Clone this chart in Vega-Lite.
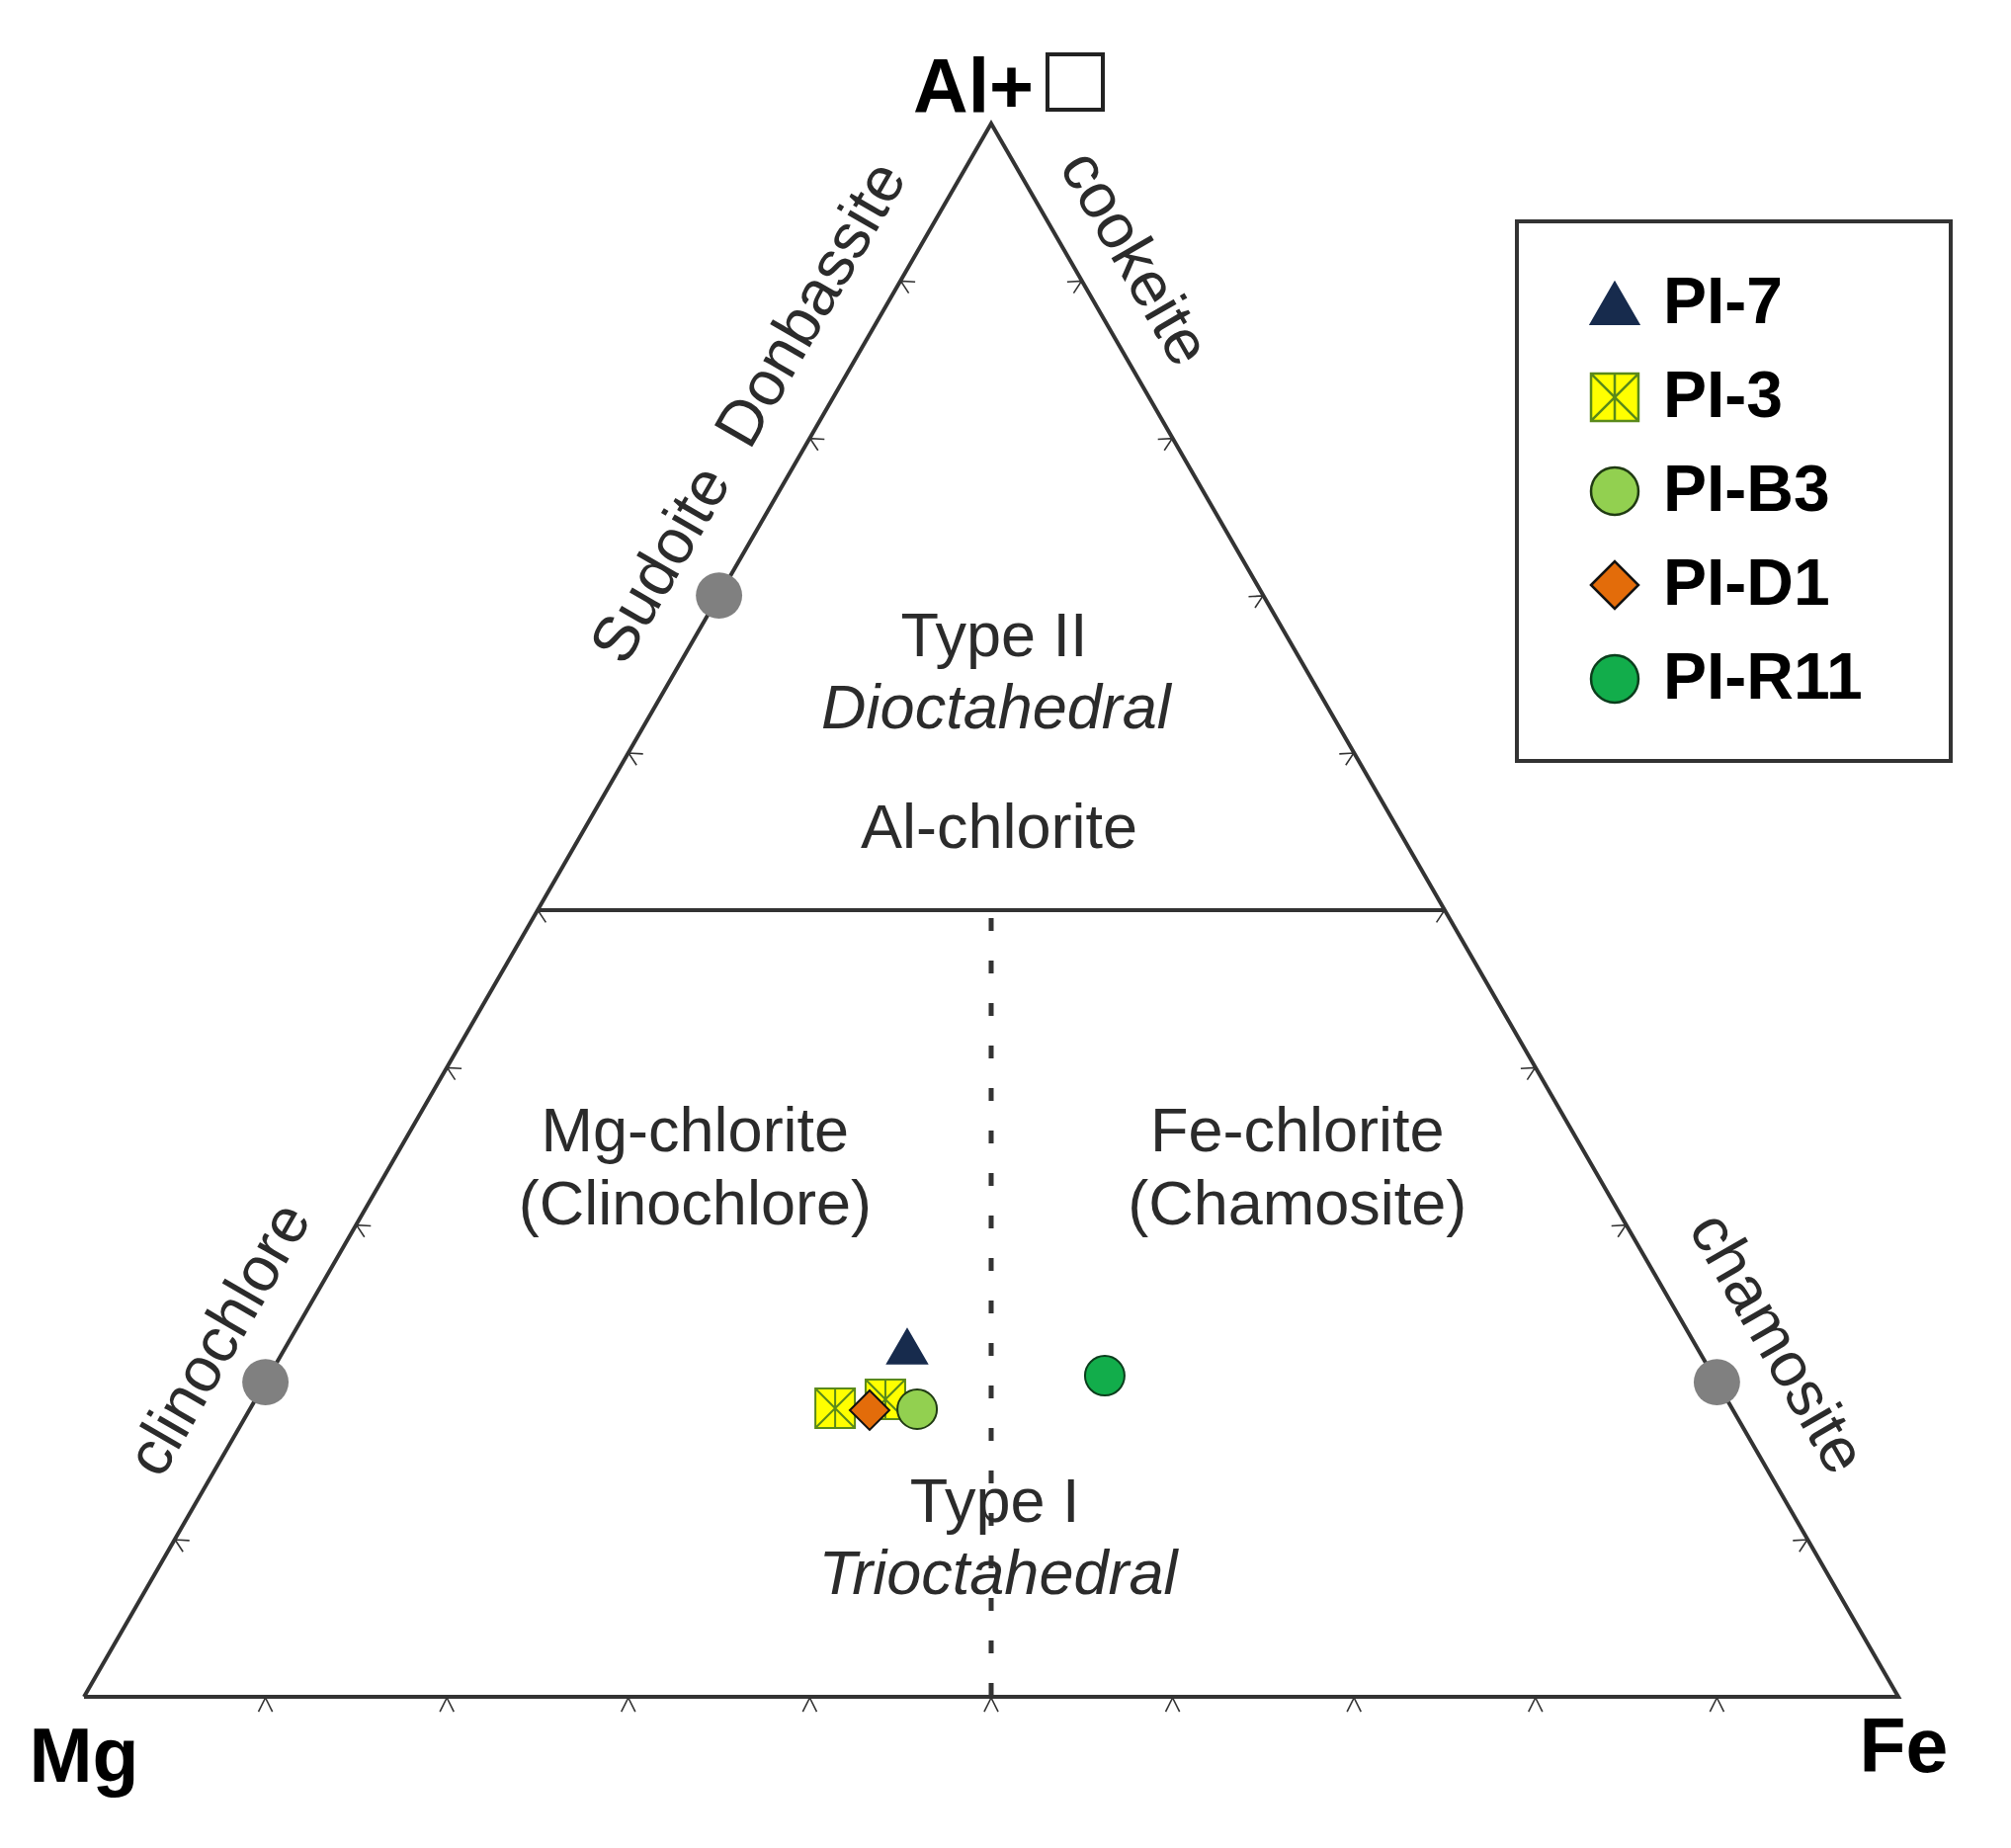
{
  "$schema": "https://vega.github.io/schema/vega-lite/v6.json",
  "width": 2035,
  "height": 1870,
  "autosize": {"type": "none"},
  "padding": 0,
  "background": "white",
  "config": {"view": {"stroke": null}, "font": "Liberation Sans", "legend": {"strokeWidth": 4}},
  "datasets": {
    "triangle": [
      {"x": 0, "y": 0, "o": 0},
      {"x": 1, "y": 0, "o": 1},
      {"x": 0.5, "y": 1, "o": 2},
      {"x": 0, "y": 0, "o": 3}
    ],
    "hline": [{"x": 0.25, "y": 0.5, "x2": 0.75, "y2": 0.5}],
    "divider": [{"x": 0.5, "y": 0.5, "x2": 0.5, "y2": 0}],
    "ticksBottom": [
      {"x": 0.1, "y": 0}, {"x": 0.2, "y": 0}, {"x": 0.3, "y": 0}, {"x": 0.4, "y": 0}, {"x": 0.5, "y": 0},
      {"x": 0.6, "y": 0}, {"x": 0.7, "y": 0}, {"x": 0.8, "y": 0}, {"x": 0.9, "y": 0}
    ],
    "ticksLeft": [
      {"x": 0.05, "y": 0.1}, {"x": 0.1, "y": 0.2}, {"x": 0.15, "y": 0.3}, {"x": 0.2, "y": 0.4}, {"x": 0.25, "y": 0.5},
      {"x": 0.3, "y": 0.6}, {"x": 0.35, "y": 0.7}, {"x": 0.4, "y": 0.8}, {"x": 0.45, "y": 0.9}
    ],
    "ticksRight": [
      {"x": 0.95, "y": 0.1}, {"x": 0.9, "y": 0.2}, {"x": 0.85, "y": 0.3}, {"x": 0.8, "y": 0.4}, {"x": 0.75, "y": 0.5},
      {"x": 0.7, "y": 0.6}, {"x": 0.65, "y": 0.7}, {"x": 0.6, "y": 0.8}, {"x": 0.55, "y": 0.9}
    ],
    "endmembers": [
      {"name": "clinochlore", "x": 0.1, "y": 0.2},
      {"name": "chamosite", "x": 0.9, "y": 0.2},
      {"name": "sudoite", "x": 0.35, "y": 0.7}
    ],
    "samples": [
      {"sample": "PI-3", "x": 0.414, "y": 0.1834},
      {"sample": "PI-3", "x": 0.4417, "y": 0.1891},
      {"sample": "PI-D1", "x": 0.433, "y": 0.1822},
      {"sample": "PI-B3", "x": 0.4592, "y": 0.1828},
      {"sample": "PI-7", "x": 0.4537, "y": 0.2227},
      {"sample": "PI-R11", "x": 0.5626, "y": 0.2041}
    ],
    "corners": [
      {"t": "Mg", "x": 0, "y": -0.054},
      {"t": "Fe", "x": 1.003, "y": -0.0477},
      {"t": "Al+", "x": 0.4902, "y": 1.0069}
    ],
    "vacancy": [{"x": 0.5463, "y": 1.0264}],
    "regionLabels": [
      {"t": "Type II", "x": 0.5016, "y": 0.6614},
      {"t": "Al-chlorite", "x": 0.5044, "y": 0.5396},
      {"t": "Mg-chlorite", "x": 0.3368, "y": 0.3467},
      {"t": "(Clinochlore)", "x": 0.3368, "y": 0.3003},
      {"t": "Fe-chlorite", "x": 0.6687, "y": 0.3467},
      {"t": "(Chamosite)", "x": 0.6687, "y": 0.3003},
      {"t": "Type I", "x": 0.502, "y": 0.1112}
    ],
    "italicLabels": [
      {"t": "Dioctahedral", "x": 0.5027, "y": 0.6156},
      {"t": "Trioctahedral", "x": 0.5038, "y": 0.0653}
    ],
    "leftEdgeLabels": [
      {"t": "Sudoite\u00a0\u00a0Donbassite", "x": 0.3671, "y": 0.816},
      {"t": "clinochlore", "x": 0.0752, "y": 0.2268}
    ],
    "rightEdgeLabels": [
      {"t": "cookeite", "x": 0.5784, "y": 0.914},
      {"t": "chamosite", "x": 0.9325, "y": 0.2243}
    ]
  },
  "encoding": {
    "x": {"field": "x", "type": "quantitative", "scale": {"domain": [-0.046296, 1.062092], "nice": false, "zero": false}, "axis": null},
    "y": {"field": "y", "type": "quantitative", "scale": {"domain": [-0.0961, 1.07852], "nice": false, "zero": false}, "axis": null}
  },
  "layer": [
    {
      "data": {"name": "triangle"},
      "mark": {"type": "line", "color": "#333333", "strokeWidth": 4, "strokeJoin": "miter"},
      "encoding": {"order": {"field": "o", "type": "quantitative"}}
    },
    {
      "data": {"name": "hline"},
      "mark": {"type": "rule", "color": "#333333", "strokeWidth": 4},
      "encoding": {"x2": {"field": "x2"}, "y2": {"field": "y2"}}
    },
    {
      "data": {"name": "divider"},
      "mark": {"type": "rule", "color": "#333333", "strokeWidth": 5, "strokeDash": [13, 30], "strokeDashOffset": -8},
      "encoding": {"x2": {"field": "x2"}, "y2": {"field": "y2"}}
    },
    {
      "data": {"name": "ticksBottom"},
      "mark": {"type": "point", "shape": "M-1,1L0,-1L1,1", "filled": false, "size": 200, "stroke": "#333333", "strokeWidth": 1.6, "opacity": 1, "yOffset": 8},
      "encoding": {}
    },
    {
      "data": {"name": "ticksLeft"},
      "mark": {"type": "point", "shape": "M-1,1L0,-1L1,1", "filled": false, "size": 170, "stroke": "#333333", "strokeWidth": 1.6, "opacity": 1, "angle": -60, "xOffset": 6, "yOffset": 3.5},
      "encoding": {}
    },
    {
      "data": {"name": "ticksRight"},
      "mark": {"type": "point", "shape": "M-1,1L0,-1L1,1", "filled": false, "size": 170, "stroke": "#333333", "strokeWidth": 1.6, "opacity": 1, "angle": 60, "xOffset": -6, "yOffset": 3.5},
      "encoding": {}
    },
    {
      "data": {"name": "endmembers"},
      "mark": {"type": "point", "shape": "circle", "filled": true, "size": 2200, "color": "#808080", "opacity": 1, "strokeWidth": 0},
      "encoding": {}
    },
    {
      "data": {"name": "samples"},
      "mark": {"type": "point", "filled": true, "size": 1600, "strokeWidth": 2, "opacity": 1},
      "encoding": {
        "shape": {
          "field": "sample", "type": "nominal",
          "scale": {"domain": ["PI-7", "PI-3", "PI-B3", "PI-D1", "PI-R11"], "range": ["triangle-up", "M-1,-1H1V1H-1Z M-1,-1L1,1 M1,-1L-1,1 M0,-1L0,1", "circle", "diamond", "circle"]},
          "legend": {"title": ".", "titleOrient": "right", "titleColor": "transparent", "titleFontSize": 8, "titlePadding": 36, "orient": "none", "legendX": 1535, "legendY": 224, "padding": 50, "symbolOffset": 16, "labelOffset": 16, "rowPadding": 29, "symbolSize": 2300, "symbolStrokeWidth": 2.5, "labelFont": "Liberation Sans", "labelFontWeight": "bold", "labelFontSize": 66, "labelLimit": 600, "labelColor": "#000000", "strokeColor": "#333333", "fillColor": "white"}
        },
        "fill": {
          "field": "sample", "type": "nominal",
          "scale": {"domain": ["PI-7", "PI-3", "PI-B3", "PI-D1", "PI-R11"], "range": ["#172b4d", "#ffff00", "#92d050", "#e36c0a", "#12ad4b"]},
          "legend": {"title": ".", "titleOrient": "right", "titleColor": "transparent", "titleFontSize": 8, "titlePadding": 36, "orient": "none", "legendX": 1535, "legendY": 224, "padding": 50, "symbolOffset": 16, "labelOffset": 16, "rowPadding": 29, "symbolSize": 2300, "symbolStrokeWidth": 2.5, "labelFont": "Liberation Sans", "labelFontWeight": "bold", "labelFontSize": 66, "labelLimit": 600, "labelColor": "#000000", "strokeColor": "#333333", "fillColor": "white"}
        },
        "stroke": {
          "field": "sample", "type": "nominal",
          "scale": {"domain": ["PI-7", "PI-3", "PI-B3", "PI-D1", "PI-R11"], "range": ["#172b4d", "#5a8a1a", "#1f3a12", "#111111", "#0b3d1c"]},
          "legend": {"title": ".", "titleOrient": "right", "titleColor": "transparent", "titleFontSize": 8, "titlePadding": 36, "orient": "none", "legendX": 1535, "legendY": 224, "padding": 50, "symbolOffset": 16, "labelOffset": 16, "rowPadding": 29, "symbolSize": 2300, "symbolStrokeWidth": 2.5, "labelFont": "Liberation Sans", "labelFontWeight": "bold", "labelFontSize": 66, "labelLimit": 600, "labelColor": "#000000", "strokeColor": "#333333", "fillColor": "white"}
        }
      }
    },
    {
      "data": {"name": "corners"},
      "mark": {"type": "text", "font": "Liberation Sans", "fontWeight": "bold", "fontSize": 77, "color": "#000000", "align": "center", "baseline": "alphabetic"},
      "encoding": {"text": {"field": "t"}}
    },
    {
      "data": {"name": "vacancy"},
      "mark": {"type": "point", "shape": "square", "filled": false, "fill": "white", "size": 3136, "stroke": "#222222", "strokeWidth": 4, "opacity": 1},
      "encoding": {}
    },
    {
      "data": {"name": "regionLabels"},
      "mark": {"type": "text", "font": "Liberation Sans", "fontSize": 63, "color": "#2b2b2b", "align": "center", "baseline": "alphabetic"},
      "encoding": {"text": {"field": "t"}}
    },
    {
      "data": {"name": "italicLabels"},
      "mark": {"type": "text", "font": "Liberation Sans", "fontStyle": "italic", "fontSize": 63, "color": "#2b2b2b", "align": "center", "baseline": "alphabetic"},
      "encoding": {"text": {"field": "t"}}
    },
    {
      "data": {"name": "leftEdgeLabels"},
      "mark": {"type": "text", "font": "Liberation Sans", "fontSize": 64, "color": "#2b2b2b", "align": "center", "baseline": "middle", "angle": -60},
      "encoding": {"text": {"field": "t"}}
    },
    {
      "data": {"name": "rightEdgeLabels"},
      "mark": {"type": "text", "font": "Liberation Sans", "fontSize": 64, "color": "#2b2b2b", "align": "center", "baseline": "middle", "angle": 60},
      "encoding": {"text": {"field": "t"}}
    }
  ]
}
